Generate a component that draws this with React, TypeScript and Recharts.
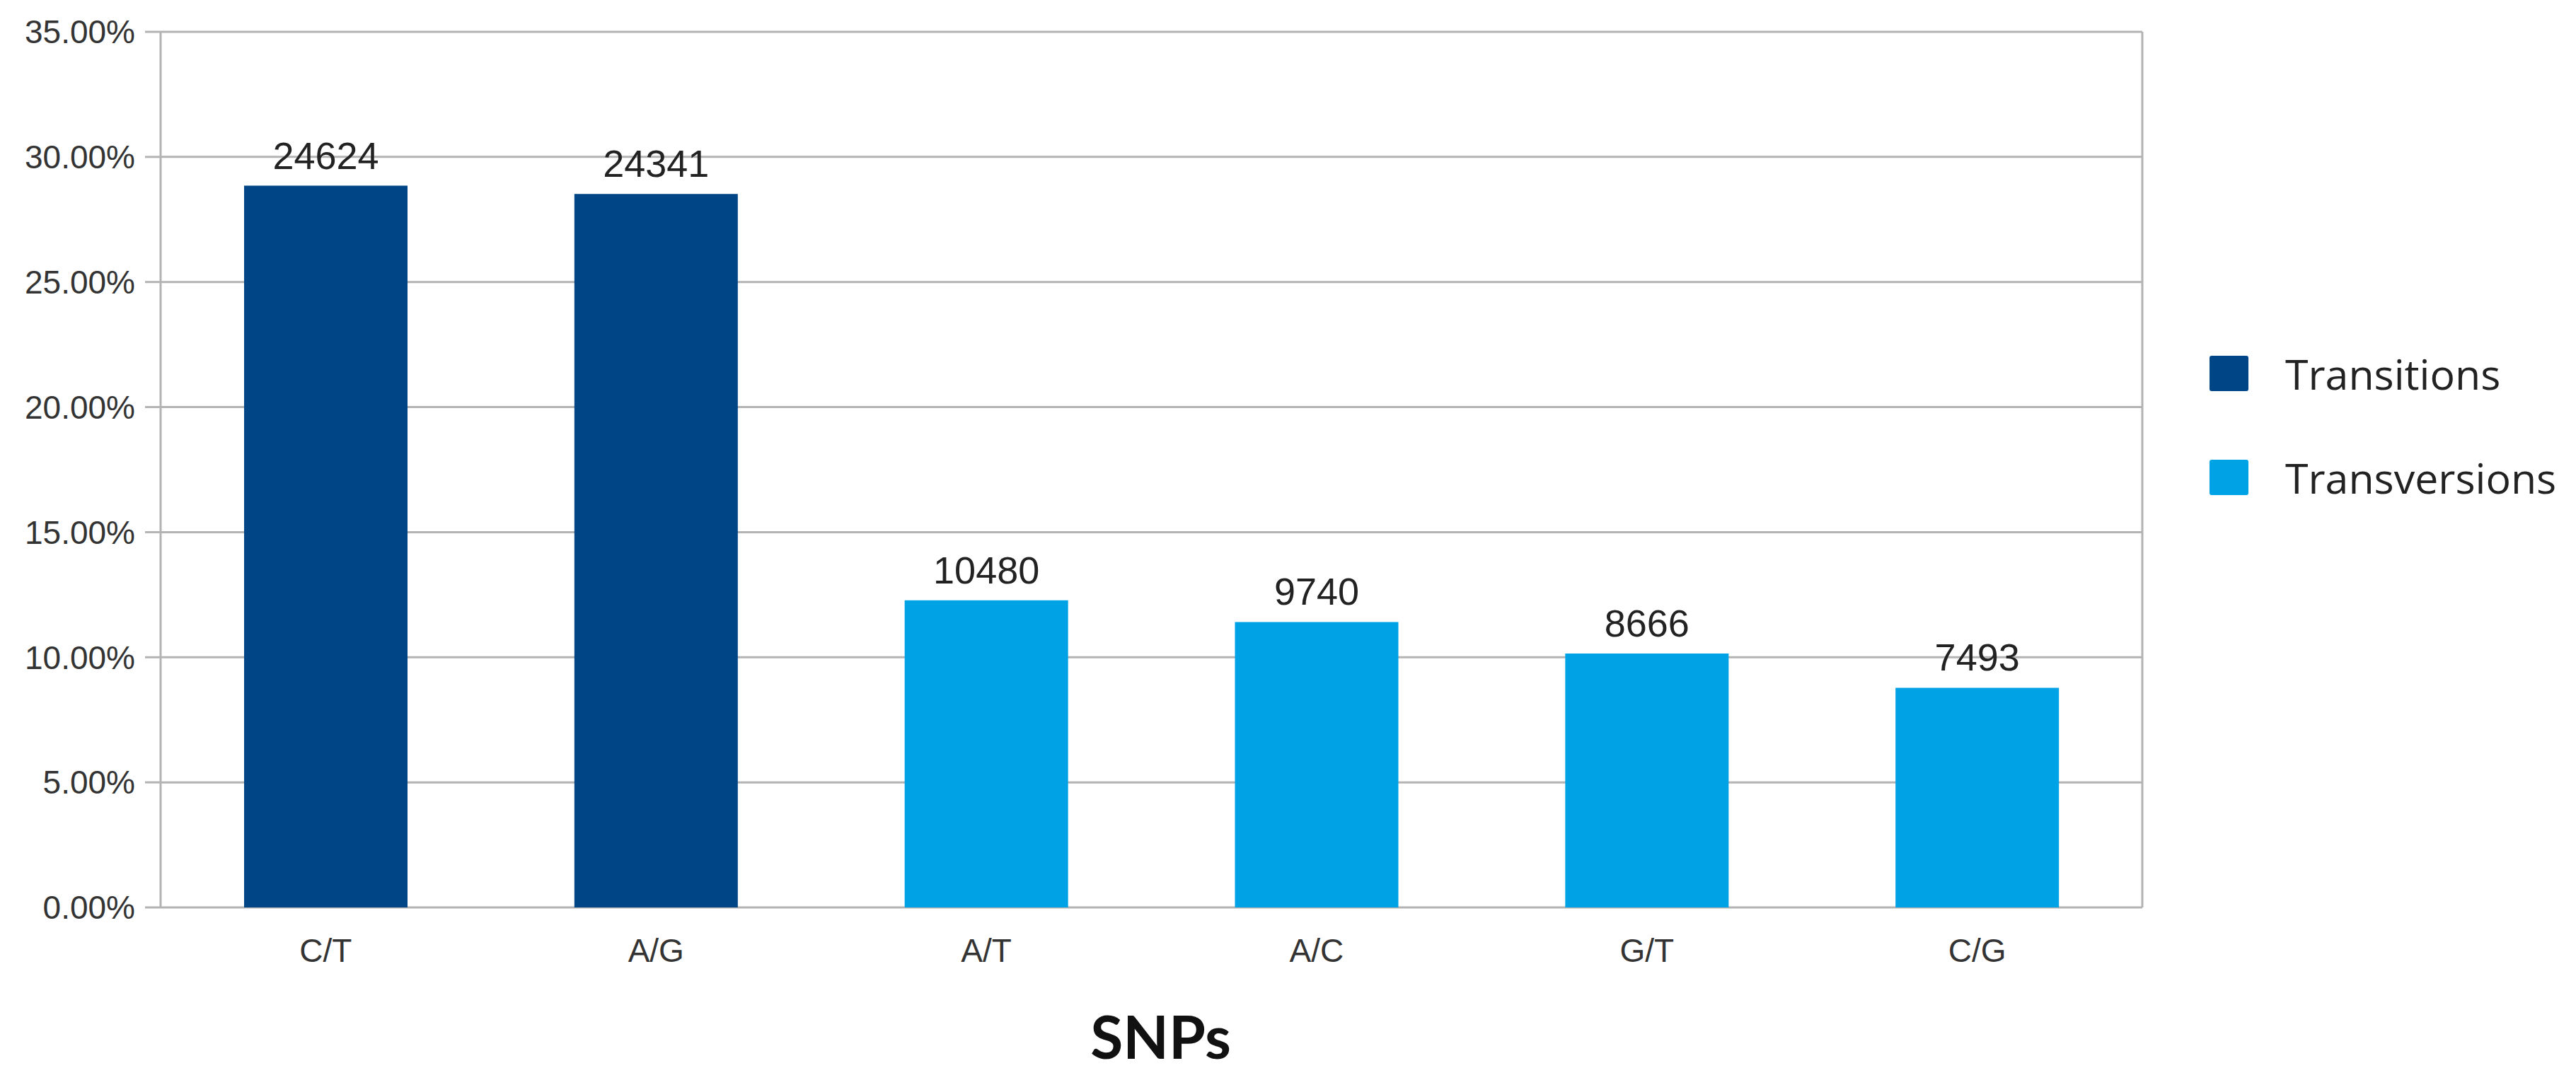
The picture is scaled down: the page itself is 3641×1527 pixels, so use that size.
import { Bar, BarChart, CartesianGrid, Cell, LabelList, Legend, XAxis, YAxis, Label } from "recharts"

const categories = ["C/T", "A/G", "A/T", "A/C", "G/T", "C/G"]
const counts = [24624, 24341, 10480, 9740, 8666, 7493]
const percents = [28.85, 28.52, 12.28, 11.41, 10.15, 8.78]
const snpTypes = ["Transitions", "Transitions", "Transversions", "Transversions", "Transversions", "Transversions"]
const yTicks = [0, 5, 10, 15, 20, 25, 30, 35]
const boundaryTicks = [0, 1, 2, 3, 4, 5, 6]

const typeColors: Record<string, string> = {
  Transitions: "#004586",
  Transversions: "#00a2e6",
}
const legendItems = ["Transitions", "Transversions"]

const data = categories.map((name, i) => ({
  name,
  pct: percents[i],
  count: counts[i],
  type: snpTypes[i],
}))

const gridColor = "#b3b3b3"

function LegendBox() {
  return (
    <div style={{ fontFamily: "'Open Sans', sans-serif", fontSize: 59, color: "#222" }}>
      {legendItems.map((item, i) => (
        <div
          key={item}
          style={{ display: "flex", alignItems: "center", height: 100, marginBottom: i === 0 ? 47 : 0 }}
        >
          <div style={{ width: 55, height: 50, background: typeColors[item], borderRadius: 3, marginRight: 52 }} />
          <span>{item}</span>
        </div>
      ))}
    </div>
  )
}

export default function App() {
  return (
    <div style={{ position: "absolute", left: 0, top: 0, width: 3641, height: 1527, background: "#fff" }}>
      <BarChart
        width={3641}
        height={1527}
        data={data}
        margin={{ top: 45, right: 612, left: 0, bottom: 0 }}
      >
        <CartesianGrid vertical={false} stroke={gridColor} strokeWidth={3} />
        {/* category boundary ticks under the axis */}
        <XAxis
          xAxisId="bounds"
          type="number"
          domain={[0, 6]}
          ticks={boundaryTicks}
          allowDataOverflow
          height={0}
          tick={false}
          tickSize={20}
          stroke={gridColor}
          tickLine={{ stroke: gridColor, strokeWidth: 3 }}
          axisLine={{ stroke: gridColor, strokeWidth: 3 }}
        />
        <XAxis
          dataKey="name"
          height={244}
          tickLine={false}
          axisLine={false}
          tickSize={0}
          tickMargin={44}
          tick={{ fontFamily: "'Liberation Sans', Arial, sans-serif", fontSize: 46, fill: "#333" }}
        >
          <Label
            value="SNPs"
            position="insideBottom"
            offset={30}
            dx={13}
            style={{ fontFamily: "Lato, sans-serif", fontWeight: 700, fontSize: 84, fill: "#111" }}
          />
        </XAxis>
        <YAxis
          width={227}
          domain={[0, 35]}
          ticks={yTicks}
          interval={0}
          tickFormatter={(v: number) => `${v.toFixed(2)}%`}
          tickSize={22}
          tickMargin={14}
          tickLine={{ stroke: gridColor, strokeWidth: 3 }}
          axisLine={{ stroke: gridColor, strokeWidth: 3 }}
          tick={{ fontFamily: "'Liberation Sans', Arial, sans-serif", fontSize: 46, fill: "#333" }}
        />
        <YAxis
          yAxisId="right"
          orientation="right"
          width={1}
          domain={[0, 35]}
          tick={false}
          tickLine={false}
          axisLine={{ stroke: gridColor, strokeWidth: 3 }}
        />
        <Legend
          layout="vertical"
          align="center"
          verticalAlign="middle"
          wrapperStyle={{ position: "absolute", left: 3123, top: 478, width: 500 }}
          content={() => <LegendBox />}
        />
        <Bar dataKey="pct" barSize={231} isAnimationActive={false}>
          {data.map((d) => (
            <Cell key={d.name} fill={typeColors[d.type]} />
          ))}
          <LabelList
            dataKey="count"
            position="top"
            offset={24}
            style={{ fontFamily: "'Liberation Sans', Arial, sans-serif", fontSize: 54, fill: "#222" }}
          />
        </Bar>
      </BarChart>
    </div>
  )
}
